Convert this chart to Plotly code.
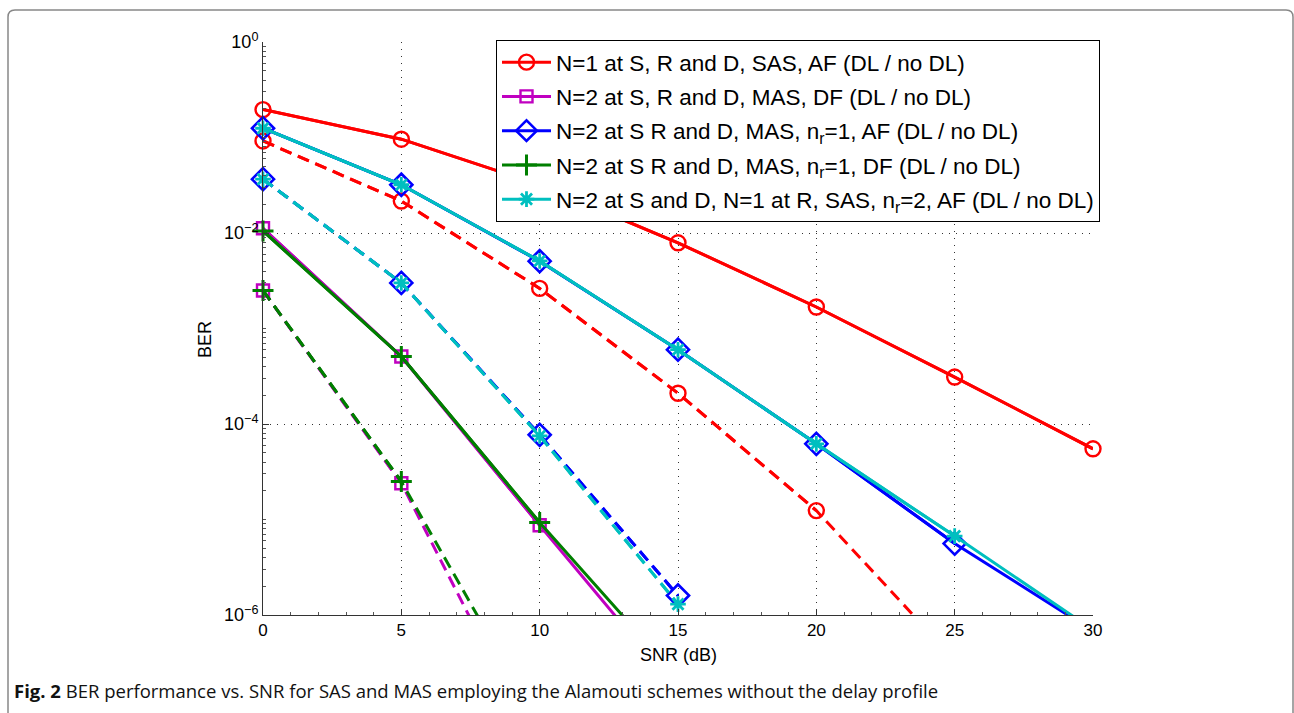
import plotly.graph_objects as go

# ---------------- data ----------------
snr = [0, 5, 10, 15, 20, 25, 30]

# N=1 at S, R and D, SAS, AF
sas_af_dl   = [0.196, 0.096, 0.032, 0.0079, 0.00168, 3.1e-4, 5.5e-5]
sas_af_nodl = [0.092, 0.0216, 0.00263, 2.1e-4, 1.24e-5, 3.4e-7]
# N=2 at S, R and D, MAS, DF
mas_df_dl   = [0.0112, 5.1e-4, 8.7e-6, 1.6e-7]
mas_df_nodl = [0.0025, 2.4e-5, 3.5e-8]
# N=2 at S R and D, MAS, nr=1, AF
mas_nr1_af_dl   = [0.125, 0.032, 0.00507, 6.0e-4, 6.2e-5, 5.6e-6, 6.8e-7]
mas_nr1_af_nodl = [0.0366, 0.0030, 7.7e-5, 1.6e-6]
# N=2 at S R and D, MAS, nr=1, DF
mas_nr1_df_dl   = [0.0105, 5.1e-4, 9.3e-6, 2.2e-7]
mas_nr1_df_nodl = [0.0025, 2.5e-5, 7.0e-8]
# N=2 at S and D, N=1 at R, SAS, nr=2, AF
sas_nr2_af_dl   = [0.125, 0.032, 0.0051, 6.0e-4, 6.2e-5, 6.7e-6, 7.0e-7]
sas_nr2_af_nodl = [0.0366, 0.0030, 7.5e-5, 1.3e-6]

labels = [
    "N=1 at S, R and D, SAS, AF (DL / no DL)",
    "N=2 at S, R and D, MAS, DF (DL / no DL)",
    "N=2 at S R and D, MAS, n<sub>r</sub>=1, AF (DL / no DL)",
    "N=2 at S R and D, MAS, n<sub>r</sub>=1, DF (DL / no DL)",
    "N=2 at S and D, N=1 at R, SAS, n<sub>r</sub>=2, AF (DL / no DL)",
]
y_ticks = [1, 1e-2, 1e-4, 1e-6]
y_ticktext = ["10<sup>0</sup>", "10<sup>\u22122</sup>", "10<sup>\u22124</sup>", "10<sup>\u22126</sup>"]
x_ticks = [0, 5, 10, 15, 20, 25, 30]

# ---------------- geometry ----------------
W, H = 1294, 713
L, R, T, B = 263, 1093, 42, 615  # plot area in pixels

def px(x):
    return (x - L) / (R - L)

def py(y):
    return (B - y) / (B - T)

series = [
    (sas_af_dl, sas_af_nodl, "#FF0000", "circle-open", 15, 2.4),
    (mas_df_dl, mas_df_nodl, "#C000C0", "square-open", 12, 2.4),
    (mas_nr1_af_dl, mas_nr1_af_nodl, "#0000FF", "diamond-open", 17, 2.6),
    (mas_nr1_df_dl, mas_nr1_df_nodl, "#007F00", "cross-thin-open", 15, 3),
    (sas_nr2_af_dl, sas_nr2_af_nodl, "#00BFBF", "asterisk-open", 13, 2.8),
]

YMIN = 1e-6
fig = go.Figure()
for (dl, nodl, color, sym, msize, mw), name in zip(series, labels):
    for vals, dash, show in ((dl, "solid", True), (nodl, "12px,7px", False)):
        xs = snr[:len(vals)]
        fig.add_trace(go.Scatter(
            x=xs, y=vals, mode="lines", showlegend=False, hoverinfo="skip",
            legendgroup=name,
            line=dict(color=color, width=3, dash=dash)))
        xin = [x for x, v in zip(xs, vals) if v >= YMIN]
        yin = [v for v in vals if v >= YMIN]
        fig.add_trace(go.Scatter(
            x=xin, y=yin, mode="lines+markers", name=name, showlegend=show,
            legendgroup=name, cliponaxis=False,
            line=dict(color=color, width=3, dash=dash),
            marker=dict(symbol=sym, size=msize, color=color,
                        line=dict(color=color, width=mw))))

minor_y = [m * 10.0 ** e for e in range(-6, 0) for m in range(2, 11)]
FONT = "Liberation Sans, Arial, Helvetica, sans-serif"

fig.update_layout(
    width=W, height=H,
    margin=dict(l=L, r=W - R, t=T, b=H - B),
    paper_bgcolor="white", plot_bgcolor="white",
    font=dict(family=FONT, size=17, color="#000"),
    showlegend=True,
    legend=dict(
        x=px(496), y=py(40), xanchor="left", yanchor="top",
        bgcolor="white", bordercolor="#000", borderwidth=1,
        font=dict(size=22.5, family=FONT),
        itemwidth=49, traceorder="grouped", tracegroupgap=2,
    ),
    xaxis=dict(
        range=[0, 30], tickmode="array", tickvals=x_ticks,
        ticks="inside", ticklen=6, tickcolor="#333", tickwidth=1,
        showline=True, linecolor="#333", linewidth=1, mirror=False,
        showgrid=True, gridcolor="#333", griddash="1px,6px", gridwidth=1,
        zeroline=False, tickfont=dict(size=17, family=FONT),
        minor=dict(ticks="inside", ticklen=3, dtick=1, tickcolor="#555", showgrid=False),
    ),
    yaxis=dict(
        type="log", range=[-6, 0], tickmode="array", tickvals=y_ticks,
        ticktext=y_ticktext,
        ticks="inside", ticklen=6, tickcolor="#333", tickwidth=1,
        showline=True, linecolor="#333", linewidth=1, mirror=False,
        showgrid=True, gridcolor="#333", griddash="1px,6px", gridwidth=1,
        zeroline=False, tickfont=dict(size=18, family=FONT),
        minor=dict(ticks="inside", ticklen=3, tickmode="array", tickvals=minor_y,
                   tickcolor="#555", showgrid=False),
    ),
)

fig.add_annotation(text="SNR (dB)", x=px(678), y=py(655), xref="paper", yref="paper",
                   showarrow=False, font=dict(size=18, family=FONT),
                   xanchor="center", yanchor="middle")
fig.add_annotation(text="BER", x=px(205), y=py(340), xref="paper", yref="paper",
                   showarrow=False, font=dict(size=18, family=FONT), textangle=-90,
                   xanchor="center", yanchor="middle")
fig.add_annotation(
    text="<b>Fig. 2</b> BER performance vs. SNR for SAS and MAS employing the Alamouti schemes without the delay profile",
    x=px(12), y=py(690), xref="paper", yref="paper", showarrow=False,
    xanchor="left", yanchor="middle",
    font=dict(size=18.5, family="Open Sans, Noto Sans, sans-serif", color="#111"))

# outer rounded frame
x0, x1, y0, y1, r = px(8), px(1293), py(10), py(720), 7
rx = r / (R - L)
ry = r / (B - T)
path = (f"M {x0},{y1} L {x0},{y0 - ry} Q {x0},{y0} {x0 + rx},{y0} "
        f"L {x1 - rx},{y0} Q {x1},{y0} {x1},{y0 - ry} L {x1},{y1}")
fig.add_shape(type="path", path=path, xref="paper", yref="paper",
              line=dict(color="#888", width=1.5), layer="below")

fig.write_html(
    "out.html",
    config={"displayModeBar": False},
    post_script="document.body.style.margin='0';document.body.style.overflow='hidden';",
)
